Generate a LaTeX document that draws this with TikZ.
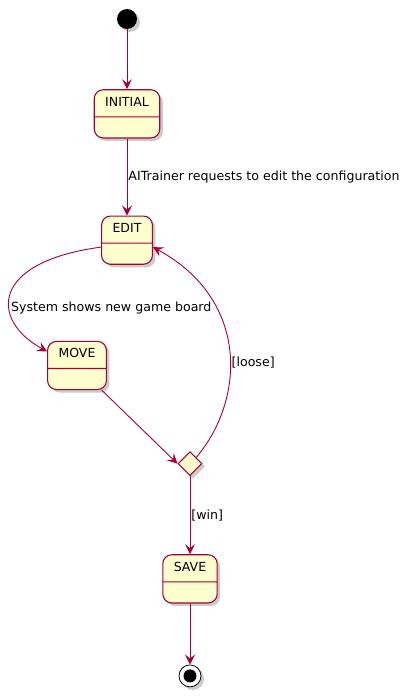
\documentclass[tikz,border=0pt]{standalone}
\usepackage{fontspec}
\setmainfont{DejaVu Sans}
\usetikzlibrary{positioning, arrows.meta, shapes.geometric, shapes.multipart, shadows}
\definecolor{umlred}{HTML}{A80036}
\definecolor{umlfill}{HTML}{FEFECE}
\tikzset{
    umlshadow/.style={drop shadow={shadow xshift=3pt, shadow yshift=-3pt, fill=black!45, opacity=.45}},
    statebox/.style={draw=umlred, fill=umlfill, line width=1.1pt, rounded corners=9pt, rectangle split, rectangle split parts=2, rectangle split empty part height=8pt, inner xsep=11pt, inner ysep=6pt, font=\fontsize{12.5}{14}\selectfont, execute at begin node=\strut, umlshadow},
    choicebox/.style={diamond, draw=umlred, fill=umlfill, line width=1.1pt, minimum width=24pt, minimum height=24pt, inner sep=0pt, umlshadow},
    startdot/.style={circle, fill=black, minimum size=20pt, inner sep=0pt, umlshadow},
    stopdot/.style={circle, draw=black, fill=white, line width=.8pt, minimum size=22pt, inner sep=0pt, umlshadow, path picture={\fill[black] (path picture bounding box.center) circle (6.5pt);}},
    trans/.style={draw=umlred, line width=.9pt, -{Stealth[length=10pt, width=10pt, inset=4pt]}},
    tlabel/.style={font=\fontsize{12.6}{14}\selectfont, inner sep=1pt}
}
\begin{document}
\begin{tikzpicture}[x=1pt, y=-1pt]
  \useasboundingbox (0,0) rectangle (412,696);
  \node(start)[startdot] at (127,19){};
  \node(initial)[statebox, below=60pt of start]{INITIAL};
  \node(edit)[statebox, below=77pt of initial]{EDIT};
  \node(move)[statebox, below=76pt of edit, xshift=-50pt]{MOVE};
  \node(choice)[choicebox, below=61pt of move, xshift=113pt]{};
  \node(save)[statebox, below=78pt of choice]{SAVE};
  \node(stop)[stopdot, below=61pt of save]{};
  \draw[trans](start)--(initial);
  \draw[trans](initial)--node[tlabel, right]{AITrainer requests to edit the configuration}(edit);
  \draw[trans](edit.195) .. controls (-10,262) and (-10,320) .. node[tlabel, pos=.62, right]{System shows new game board}(move.155);
  \draw[trans](move.-45)--(choice.west);
  \draw[trans](choice.north east) .. controls (245,400) and (250,300) .. node[tlabel, pos=.45, right]{[loose]}(edit.-15);
  \draw[trans](choice)--node[tlabel, right]{[win]}(save);
  \draw[trans](save)--(stop);
\end{tikzpicture}
\end{document}
